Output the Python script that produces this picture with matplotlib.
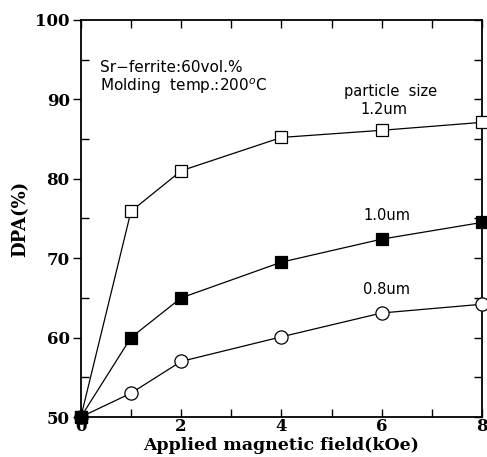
import matplotlib
matplotlib.use("Agg")
import matplotlib.pyplot as plt
from matplotlib.ticker import MultipleLocator

field = [0, 1, 2, 4, 6, 8]
dpa_12 = [50, 75.9, 81.0, 85.2, 86.1, 87.1]
dpa_10 = [50, 60.0, 65.0, 69.5, 72.4, 74.5]
dpa_08 = [50, 53.0, 57.0, 60.1, 63.1, 64.2]

fig = plt.figure(figsize=(4.87, 4.57), dpi=100)
ax = fig.add_axes([0.166, 0.0875, 0.824, 0.869])

ax.plot(field, dpa_12, color="black", lw=0.9, marker="s", ms=8.5,
        mfc="white", mec="black", mew=0.9, clip_on=False, zorder=3)
ax.plot(field, dpa_08, color="black", lw=0.9, marker="o", ms=9.5,
        mfc="white", mec="black", mew=0.9, clip_on=False, zorder=3)
ax.plot(field, dpa_10, color="black", lw=0.9, marker="s", ms=8.5,
        mfc="black", mec="black", mew=0.9, clip_on=False, zorder=4)

ax.set_xlim(0, 8)
ax.set_ylim(50, 100)
ax.xaxis.set_major_locator(MultipleLocator(2))
ax.xaxis.set_minor_locator(MultipleLocator(1))
ax.yaxis.set_major_locator(MultipleLocator(10))
ax.yaxis.set_minor_locator(MultipleLocator(5))

for s in ax.spines.values():
    s.set_linewidth(1.3)

ax.tick_params(axis="x", which="both", direction="in", top=True, bottom=True,
               length=6, width=1, pad=1)
ax.tick_params(axis="y", which="major", direction="out", left=True, right=True,
               length=6, width=1, pad=2)
ax.tick_params(axis="y", which="minor", direction="in", left=True, right=True,
               length=6, width=1)
for t in ax.yaxis.get_major_ticks():
    t.tick2line.set_marker(matplotlib.lines.TICKLEFT)

for lab in ax.get_xticklabels() + ax.get_yticklabels():
    lab.set_fontfamily("DejaVu Serif")
    lab.set_fontweight("bold")
    lab.set_fontsize(12)

ax.set_xlabel("Applied magnetic field(kOe)", fontfamily="DejaVu Serif",
              fontweight="bold", fontsize=12.5, labelpad=1)
ax.set_ylabel("DPA(%)", fontfamily="DejaVu Serif", fontweight="bold",
              fontsize=13, labelpad=4)

ax.text(0.38, 94.0, "Sr\u2212ferrite:60vol.%", fontsize=11, va="center")
ax.text(0.38, 91.6, "Molding  temp.:200$^o$C", fontsize=11, va="center")
ax.text(6.17, 91.0, "particle  size", fontsize=10.5, ha="center", va="center")
ax.text(6.05, 88.7, "1.2um", fontsize=10.5, ha="center", va="center")
ax.text(6.1, 75.4, "1.0um", fontsize=10.5, ha="center", va="center")
ax.text(6.1, 66.0, "0.8um", fontsize=10.5, ha="center", va="center")

fig.savefig("out.png", dpi=100)
